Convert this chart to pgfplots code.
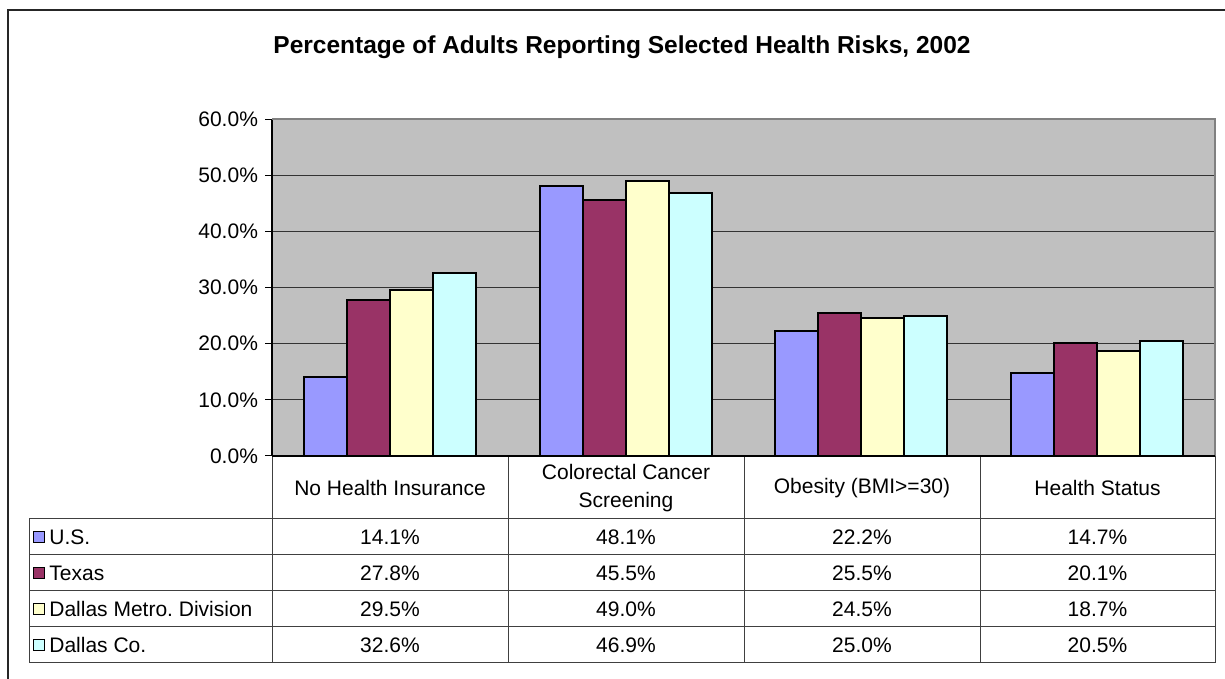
\documentclass[border=0pt]{standalone}
\usepackage{pgfplots}
\pgfplotsset{compat=1.18}
\usepackage{fontspec}
\setmainfont{Liberation Sans}
\frenchspacing
\definecolor{cUS}{HTML}{9999FF}
\definecolor{cTX}{HTML}{993366}
\definecolor{cDM}{HTML}{FFFFCC}
\definecolor{cDC}{HTML}{CCFFFF}
\definecolor{plotbg}{HTML}{C0C0C0}
\definecolor{bordergray}{HTML}{808080}
\begin{document}
\begin{tikzpicture}
\path[use as bounding box] (0,0) rectangle (612.5pt,339.5pt);
\begin{axis}[
  at={(136pt,111.5pt)}, anchor=south west,
  scale only axis, width=471.5pt, height=168.5pt,
  xmin=-0.5, xmax=3.5, ymin=0, ymax=60,
  axis background/.style={fill=plotbg},
  ybar=0pt, bar width=21.5pt,
  axis lines=left, axis line style={-, black, line width=0.6pt},
  xtick=\empty,
  ytick={0,10,20,30,40,50,60},
  ymajorgrids, grid style={black!80, line width=0.5pt},
  tick align=outside, major tick length=3.5pt,
  ytick style={black, line width=0.5pt},
  /pgf/number format/assume math mode=true,
  yticklabel={\pgfmathprintnumber[fixed,fixed zerofill,precision=1]{\tick}\%},
  tick label style={font=\fontsize{10.5}{12}\selectfont},
  clip=false,
]
\addplot[fill=cUS, draw=black, line width=0.95pt] coordinates {(0,14.1) (1,48.1) (2,22.2) (3,14.7)};
\addplot[fill=cTX, draw=black, line width=0.95pt] coordinates {(0,27.8) (1,45.5) (2,25.5) (3,20.1)};
\addplot[fill=cDM, draw=black, line width=0.95pt] coordinates {(0,29.5) (1,49.0) (2,24.5) (3,18.7)};
\addplot[fill=cDC, draw=black, line width=0.95pt] coordinates {(0,32.6) (1,46.9) (2,25.0) (3,20.5)};
\draw[bordergray, line width=1pt] (rel axis cs:0,1) -- (rel axis cs:1,1) -- (rel axis cs:1,0);
\end{axis}
\begin{scope}[x=0.5pt, y=-0.5pt, shift={(0pt,339.5pt)}]
  % outer frame
  \draw[black!85, line width=0.75pt] (8,679) -- (8,10) -- (1226,10);
  % title
  \node[font=\fontsize{12.25}{14}\selectfont\bfseries] at (622,47) {Percentage of Adults Reporting Selected Health Risks, 2002};
  % table grid
  \begin{scope}[black!75, line width=0.5pt]
    \foreach \xx in {272,508,744,980,1215} \draw (\xx,456) -- (\xx,663);
    \foreach \yy in {519,555,591,627,663} \draw (29,\yy) -- (1215,\yy);
    \draw (29,519) -- (29,663);
  \end{scope}
  \draw[black, line width=0.6pt] (272,456) -- (1215,456);
  % category labels
  \begin{scope}[font=\fontsize{10.5}{14}\selectfont]
    \node at (390,488) {No Health Insurance};
    \node[align=center] at (626,488) {Colorectal Cancer\\Screening};
    \node at (862,488) {Obesity (BMI>=30)};
    \node at (1097.5,488) {Health Status};
    % legend entries
    \foreach \yy/\cc/\nm in {537/cUS/U.S., 573/cTX/Texas, 609/cDM/Dallas Metro. Division, 645/cDC/Dallas Co.}{
      \draw[fill=\cc, draw=black, line width=0.85pt] (33.5,\yy-5.5) rectangle (44.5,\yy+5.5);
      \node[anchor=west, inner sep=0pt] at (49,\yy) {\nm};
    }
    % values
    \foreach \yy/\a/\b/\c/\d in {537/14.1/48.1/22.2/14.7, 573/27.8/45.5/25.5/20.1, 609/29.5/49.0/24.5/18.7, 645/32.6/46.9/25.0/20.5}{
      \node at (390,\yy) {\a\%};
      \node at (626,\yy) {\b\%};
      \node at (862,\yy) {\c\%};
      \node at (1097.5,\yy) {\d\%};
    }
  \end{scope}
\end{scope}
\end{tikzpicture}
\end{document}
